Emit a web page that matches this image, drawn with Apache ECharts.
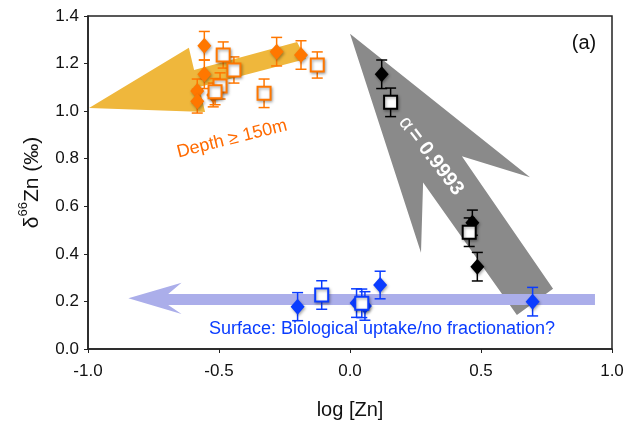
<!DOCTYPE html>
<html>
<head>
<meta charset="utf-8">
<script src="https://cdn.jsdelivr.net/npm/echarts@6/dist/echarts.min.js"></script>
<style>
  html, body { margin: 0; padding: 0; background: #fff; }
  #chart { width: 630px; height: 427px; }
</style>
</head>
<body>
<div id="chart"></div>
<script>
// deep samples (>= 150 m)
var orangeDiamondX = [-0.556, -0.556, -0.583, -0.583, -0.522, -0.280, -0.187];
var orangeDiamondY = [1.275, 1.155, 1.085, 1.042, 1.068, 1.250, 1.236];
var orangeDiamondErr = [0.06, 0.06, 0.05, 0.05, 0.05, 0.06, 0.06];
var orangeSquareX = [-0.484, -0.443, -0.496, -0.515, -0.328, -0.125];
var orangeSquareY = [1.236, 1.173, 1.106, 1.082, 1.075, 1.194];
var orangeSquareErr = [0.055, 0.055, 0.055, 0.055, 0.06, 0.055];
// intermediate
var blackDiamondX = [0.121, 0.467, 0.486];
var blackDiamondY = [1.155, 0.531, 0.346];
var blackDiamondErr = [0.06, 0.053, 0.06];
var blackSquareX = [0.155, 0.455];
var blackSquareY = [1.037, 0.491];
var blackSquareErr = [0.06, 0.06];
// surface
var blueDiamondX = [-0.200, 0.025, 0.057, 0.115, 0.697];
var blueDiamondY = [0.178, 0.193, 0.181, 0.269, 0.199];
var blueDiamondErr = [0.059, 0.06, 0.06, 0.058, 0.06];
var blueSquareX = [-0.108, 0.045];
var blueSquareY = [0.227, 0.192];
var blueSquareErr = [0.06, 0.06];

// annotation arrows (data coords)
var goldArrowX = [-0.996, -0.615, -0.595, -0.202, -0.168, -0.576, -0.553];
var goldArrowY = [1.013, 1.266, 1.173, 1.291, 1.219, 1.101, 0.996];
var grayArrowX = [0.0, 0.687, 0.427, 0.775, 0.637, 0.279, 0.271];
var grayArrowY = [1.325, 0.722, 0.810, 0.253, 0.143, 0.700, 0.405];
var blueArrowX = [-0.846, -0.643, -0.694, 0.935, 0.935, -0.694, -0.643];
var blueArrowY = [0.213, 0.279, 0.231, 0.231, 0.185, 0.185, 0.147];

var xTicks = ['-1.0', '-0.5', '0.0', '0.5', '1.0'];
var yTicks = ['0.0', '0.2', '0.4', '0.6', '0.8', '1.0', '1.2', '1.4'];

var ORANGE = '#ff7700';
var BLUE = '#0a3cff';
var FONT = 'Liberation Sans, Arial, sans-serif';

function zip(xs, ys, es) {
  return xs.map(function (x, i) { return es ? [x, ys[i], es[i]] : [x, ys[i]]; });
}

function arrowSeries(xs, ys, color, z) {
  return {
    type: 'custom', silent: true, z: z,
    data: [[xs[0], ys[0]]],
    renderItem: function (params, api) {
      return {
        type: 'polygon',
        shape: { points: xs.map(function (x, i) { return api.coord([x, ys[i]]); }) },
        style: { fill: color }
      };
    }
  };
}

function errSeries(xs, ys, es, color, z) {
  return {
    type: 'custom', silent: true, z: z,
    data: zip(xs, ys, es),
    renderItem: function (params, api) {
      var x = api.value(0), y = api.value(1), e = api.value(2);
      var hi = api.coord([x, y + e]), lo = api.coord([x, y - e]);
      var st = { stroke: color, lineWidth: 1.5 };
      return {
        type: 'group',
        children: [
          { type: 'line', shape: { x1: hi[0], y1: hi[1], x2: lo[0], y2: lo[1] }, style: st },
          { type: 'line', shape: { x1: hi[0] - 5.5, y1: hi[1], x2: hi[0] + 5.5, y2: hi[1] }, style: st },
          { type: 'line', shape: { x1: lo[0] - 5.5, y1: lo[1], x2: lo[0] + 5.5, y2: lo[1] }, style: st }
        ]
      };
    }
  };
}

function markSeries(xs, ys, shape, color, z) {
  var square = shape === 'square';
  return {
    type: 'scatter', z: z,
    symbol: square ? 'rect' : 'diamond',
    symbolSize: square ? 13 : [14, 16],
    data: zip(xs, ys),
    itemStyle: {
      opacity: 1,
      color: square ? '#fff' : color,
      borderColor: color,
      borderWidth: square ? 2 : 0,
      shadowBlur: 3, shadowOffsetX: 1, shadowOffsetY: 1.5,
      shadowColor: 'rgba(0,0,0,0.35)'
    }
  };
}

var chart = echarts.init(document.getElementById('chart'));
chart.setOption({
  animation: false,
  textStyle: { fontFamily: FONT },
  grid: { left: 88, right: 18, top: 16, bottom: 78, show: true, borderColor: '#222', borderWidth: 1.5 },
  xAxis: {
    type: 'value', min: -1, max: 1, interval: 0.5,
    name: 'log [Zn]', nameLocation: 'middle', nameGap: 51,
    nameTextStyle: { fontSize: 20, color: '#111', fontFamily: FONT },
    axisLine: { onZero: false, lineStyle: { color: '#222', width: 1.5 } },
    axisTick: { length: 4, lineStyle: { color: '#222' } },
    axisLabel: { fontSize: 17, color: '#111', margin: 14, formatter: function (v) { return xTicks[Math.round((v + 1) * 2)]; } },
    splitLine: { show: false }
  },
  yAxis: {
    type: 'value', min: 0, max: 1.4, interval: 0.2,
    name: '{a|δ}{s|66}{a|Zn (‰)}', nameLocation: 'middle', nameGap: 45, nameRotate: 90,
    nameTextStyle: {
      rich: {
        a: { fontSize: 21, color: '#111', fontFamily: FONT, lineHeight: 26, verticalAlign: 'bottom' },
        s: { fontSize: 13, color: '#111', fontFamily: FONT, lineHeight: 26, verticalAlign: 'top' }
      }
    },
    axisLine: { onZero: false, lineStyle: { color: '#222', width: 1.5 } },
    axisTick: { length: 4, lineStyle: { color: '#222' } },
    axisLabel: { fontSize: 17, color: '#111', margin: 9, formatter: function (v) { return yTicks[Math.round(v * 5)]; } },
    splitLine: { show: false }
  },
  series: [
    arrowSeries(goldArrowX, goldArrowY, '#efb73c', 1),
    arrowSeries(grayArrowX, grayArrowY, '#8a8a8a', 1),
    arrowSeries(blueArrowX, blueArrowY, '#abaeea', 2),
    errSeries(orangeDiamondX, orangeDiamondY, orangeDiamondErr, ORANGE, 3),
    markSeries(orangeDiamondX, orangeDiamondY, 'diamond', ORANGE, 4),
    errSeries(orangeSquareX, orangeSquareY, orangeSquareErr, ORANGE, 5),
    markSeries(orangeSquareX, orangeSquareY, 'square', ORANGE, 6),
    errSeries(blackDiamondX, blackDiamondY, blackDiamondErr, '#000', 3),
    markSeries(blackDiamondX, blackDiamondY, 'diamond', '#000', 4),
    errSeries(blackSquareX, blackSquareY, blackSquareErr, '#000', 5),
    markSeries(blackSquareX, blackSquareY, 'square', '#000', 6),
    errSeries(blueDiamondX, blueDiamondY, blueDiamondErr, BLUE, 3),
    markSeries(blueDiamondX, blueDiamondY, 'diamond', BLUE, 4),
    errSeries(blueSquareX, blueSquareY, blueSquareErr, BLUE, 5),
    markSeries(blueSquareX, blueSquareY, 'square', BLUE, 6)
  ],
  graphic: [
    { type: 'text', x: 584, y: 43, z: 10, style: { text: '(a)', font: '20px ' + FONT, fill: '#111', align: 'center', verticalAlign: 'middle' } },
    { type: 'text', x: 232, y: 139, rotation: 0.245, z: 10, style: { text: 'Depth ≥ 150m', font: '18px ' + FONT, fill: '#ff6a00', align: 'center', verticalAlign: 'middle' } },
    { type: 'text', x: 382, y: 329, z: 10, style: { text: 'Surface: Biological uptake/no fractionation?', font: '18px ' + FONT, fill: BLUE, align: 'center', verticalAlign: 'middle' } },
    { type: 'text', x: 431, y: 156, rotation: -0.92, z: 10, style: {
      text: '{g|α} {b|= 0.9993}', align: 'center', verticalAlign: 'middle',
      rich: { g: { font: '20px ' + FONT, fill: '#fff' }, b: { font: 'bold 20px ' + FONT, fill: '#fff' } }
    } }
  ]
});
</script>
</body>
</html>
